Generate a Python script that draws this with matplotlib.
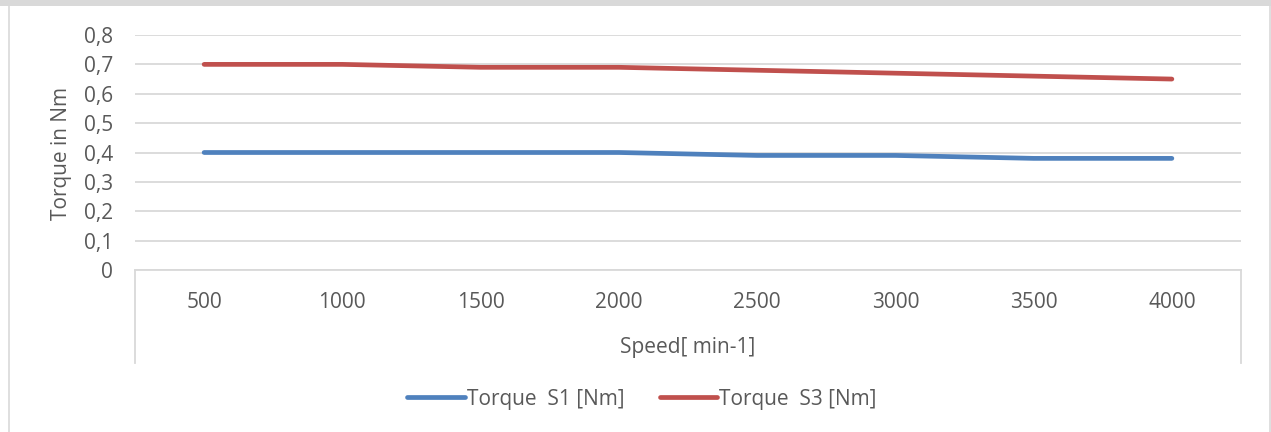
#!/usr/bin/env python

import numpy as np
import matplotlib
matplotlib.use('Agg')
import matplotlib.pyplot as plt
from matplotlib.lines import Line2D
from matplotlib.patches import Rectangle

plt.rcParams['font.family'] = ['Open Sans', 'DejaVu Sans']

# Data
speeds = ['500', '1000', '1500', '2000', '2500', '3000', '3500', '4000']
torque_s1 = [0.40, 0.40, 0.40, 0.40, 0.39, 0.39, 0.38, 0.38]
torque_s3 = [0.70, 0.70, 0.69, 0.69, 0.68, 0.67, 0.66, 0.65]
y_ticks = [0, 0.1, 0.2, 0.3, 0.4, 0.5, 0.6, 0.7, 0.8]

W, H = 1271, 432
text_col = '#595959'
grid_col = '#D9D9D9'
fs = 15

fig = plt.figure(figsize=(W / 100, H / 100), dpi=100)

# frame around the chart area
fig.add_artist(Rectangle((0, 1 - 6 / H), 1, 6 / H, transform=fig.transFigure,
                         color=grid_col, lw=0))
fig.add_artist(Line2D([8.5 / W, 8.5 / W], [0, 1 - 6 / H], transform=fig.transFigure,
                      color=grid_col, lw=1.2))
fig.add_artist(Line2D([1269.5 / W, 1269.5 / W], [0, 1 - 6 / H], transform=fig.transFigure,
                      color=grid_col, lw=1.2))

# axes: left 135, right 1241, y=0 at 270, y=0.8 at 35
ax = fig.add_axes([135 / W, 1 - 270 / H, (1241 - 135) / W, (270 - 35) / H])

x = np.arange(len(speeds))
ax.plot(x, torque_s1, color='#4F81BD', lw=3.4, solid_capstyle='round',
        solid_joinstyle='round', label='Torque  S1 [Nm]', zorder=3)
ax.plot(x, torque_s3, color='#C0504D', lw=3.4, solid_capstyle='round',
        solid_joinstyle='round', label='Torque  S3 [Nm]', zorder=3)

ax.set_xlim(-0.5, len(speeds) - 0.5)
ax.set_ylim(0, 0.8)
ax.set_yticks(y_ticks)
ax.set_yticklabels(['0' if v == 0 else ('%.1f' % v).replace('.', ',') for v in y_ticks])
ax.set_xticks(x)
ax.set_xticklabels(speeds)
ax.tick_params(axis='both', length=0, labelsize=fs, colors=text_col)
ax.tick_params(axis='y', pad=16)
ax.tick_params(axis='x', pad=16)

ax.grid(axis='y', color=grid_col, lw=1.3)
ax.set_axisbelow(True)
for s in ['top', 'left', 'right']:
    ax.spines[s].set_visible(False)
ax.spines['bottom'].set_color(grid_col)
ax.spines['bottom'].set_linewidth(1.3)

# category axis box reaching down past the axis title
depth = (363 - 270) / (270 - 35)
for xe in [0, 1]:
    ax.add_line(Line2D([xe, xe], [0, -depth], transform=ax.transAxes,
                       color=grid_col, lw=1.3, clip_on=False))

fig.text(688 / W, 1 - 348 / H, 'Speed[ min-1]', ha='center', va='center',
         fontsize=fs, color=text_col)
fig.text(62 / W, 1 - 153 / H, 'Torque in Nm', ha='center', va='center',
         rotation=90, fontsize=fs, color=text_col)

leg = fig.legend(loc='center', bbox_to_anchor=(642 / W, 1 - 399 / H), ncol=2,
                 frameon=False, fontsize=fs, handlelength=2.75, handletextpad=0.1,
                 columnspacing=1.7)
for t in leg.get_texts():
    t.set_color(text_col)

fig.savefig('out.png', dpi=100)
